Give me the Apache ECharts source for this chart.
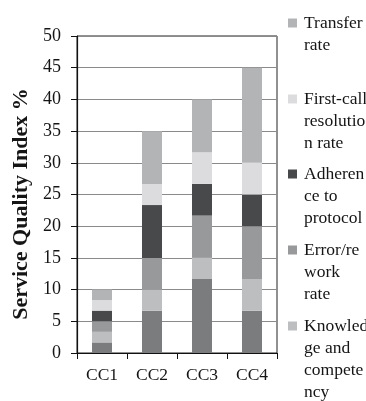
<!DOCTYPE html>
<html>
<head>
<meta charset="utf-8">
<script src="https://cdn.jsdelivr.net/npm/echarts@6/dist/echarts.min.js"></script>
<style>
  html, body { margin: 0; padding: 0; background: #fff; }
  #chart { width: 366px; height: 401px; }
</style>
</head>
<body>
<div id="chart"></div>
<script>
// Call-centre service quality, stacked by indicator (bottom to top)
const categories = ['CC1', 'CC2', 'CC3', 'CC4'];

const customerSatisfaction = [1.67, 6.67, 11.67, 6.67];
const knowledgeCompetency  = [1.67, 3.33, 3.33, 5];
const errorReworkRate      = [1.67, 5, 6.67, 8.33];
const adherenceProtocol    = [1.67, 8.33, 5, 5];
const firstCallResolution  = [1.67, 3.33, 5, 5];
const transferRate         = [1.67, 8.33, 8.33, 15];

const yTicks = [0, 5, 10, 15, 20, 25, 30, 35, 40, 45, 50];

// Legend entries, top to bottom, with the wrapped text used in the key
const legendNames = [
  'Transfer rate',
  'First-call resolution rate',
  'Adherence to protocol',
  'Error/rework rate',
  'Knowledge and competency'
];
const legendLabels = [
  'Transfer\nrate',
  'First-call\nresolutio\nn rate',
  'Adheren\nce to\nprotocol',
  'Error/re\nwork\nrate',
  'Knowled\nge and\ncompete\nncy'
];

const FONT = '"Liberation Serif", "Times New Roman", serif';
const LINE = 22;
const ICON_TOP = [23, 99, 174, 250, 326];

const colors = {
  'Customer satisfaction': '#7b7c7e',
  'Knowledge and competency': '#bdbec0',
  'Error/rework rate': '#98999b',
  'Adherence to protocol': '#48494b',
  'First-call resolution rate': '#dcdcde',
  'Transfer rate': '#b3b4b6'
};

const seriesData = [
  ['Customer satisfaction', customerSatisfaction],
  ['Knowledge and competency', knowledgeCompetency],
  ['Error/rework rate', errorReworkRate],
  ['Adherence to protocol', adherenceProtocol],
  ['First-call resolution rate', firstCallResolution],
  ['Transfer rate', transferRate]
];

// One legend block per entry. The key square is centred on its text block,
// so blank lines are put in front to bring the first text line level with it.
const legends = legendNames.map(function (name, i) {
  const lines = legendLabels[i].split('\n').length;
  const padded = new Array(lines).join('\n') + legendLabels[i];
  return {
    orient: 'vertical',
    left: 288,
    top: ICON_TOP[i] - LINE / 2 - (lines - 1) * LINE,
    padding: 0,
    itemGap: 0,
    itemWidth: 9,
    itemHeight: 9,
    icon: 'rect',
    selectedMode: false,
    data: [name],
    formatter: function () { return padded; },
    textStyle: {
      fontFamily: FONT,
      fontSize: 17.5,
      color: '#151515',
      lineHeight: LINE,
      padding: [0, 0, 0, 2]
    }
  };
});

const chart = echarts.init(document.getElementById('chart'), null, { renderer: 'canvas' });
chart.setOption({
  animation: false,
  backgroundColor: '#fff',
  legend: legends,
  grid: {
    left: 77, right: 89, top: 36, bottom: 48,
    show: true, borderColor: '#222', borderWidth: 1,
    containLabel: false
  },
  xAxis: {
    type: 'category',
    data: categories,
    axisLine: { lineStyle: { color: '#111', width: 1.2 } },
    axisTick: { show: true, length: 6, lineStyle: { color: '#111' } },
    axisLabel: { fontFamily: FONT, fontSize: 17.5, color: '#151515', margin: 13 },
    splitLine: { show: false }
  },
  yAxis: {
    type: 'value',
    min: yTicks[0],
    max: yTicks[yTicks.length - 1],
    interval: 5,
    name: 'Service Quality Index %',
    nameLocation: 'middle',
    nameGap: 42,
    nameTextStyle: {
      fontFamily: FONT, fontSize: 22, fontWeight: 'bold', color: '#151515',
      padding: [0, 19, 0, 0]
    },
    axisLine: { show: true, lineStyle: { color: '#111', width: 1.2 } },
    axisTick: { show: true, length: 6, lineStyle: { color: '#111' } },
    axisLabel: { fontFamily: FONT, fontSize: 18, color: '#151515', margin: 16 },
    splitLine: { show: true, lineStyle: { color: '#8a8a8a', width: 1 } }
  },
  series: seriesData.map(function (s) {
    return {
      name: s[0],
      type: 'bar',
      stack: 'total',
      barWidth: 20,
      data: s[1],
      itemStyle: { color: colors[s[0]] },
      emphasis: { disabled: true }
    };
  })
});
</script>
</body>
</html>
